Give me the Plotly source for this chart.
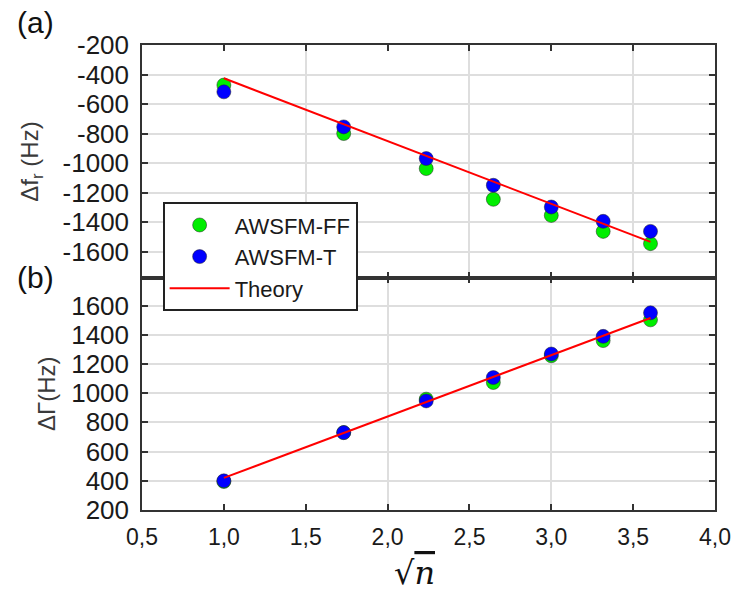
import plotly.graph_objects as go

# ---- data ----
sqrt_n = [1.0, 1.732, 2.236, 2.646, 3.0, 3.317, 3.606]

df_ff = [-471, -799, -1036, -1244, -1353, -1461, -1544]
df_t = [-517, -754, -968, -1149, -1296, -1393, -1461]
df_theory = [-425, -736, -950, -1124, -1275, -1410, -1532]

dg_ff = [395, 730, 959, 1073, 1256, 1360, 1502]
dg_t = [400, 730, 947, 1107, 1268, 1389, 1550]
dg_theory = [420, 727, 939, 1111, 1260, 1393, 1515]

x_tickvals = [0.5, 1.0, 1.5, 2.0, 2.5, 3.0, 3.5, 4.0]
x_ticktext = ["0,5", "1,0", "1,5", "2,0", "2,5", "3,0", "3,5", "4,0"]
top_y_tickvals = [-200, -400, -600, -800, -1000, -1200, -1400, -1600]
top_y_ticktext = ["-200", "-400", "-600", "-800", "-1000", "-1200", "-1400", "-1600"]
bot_y_tickvals = [200, 400, 600, 800, 1000, 1200, 1400, 1600]
bot_y_ticktext = ["200", "400", "600", "800", "1000", "1200", "1400", "1600"]

GREEN = "#00EE00"
BLUE = "#0000FF"
RED = "#FF0000"
AXC = "#333333"
GRIDC = "#DEDEDE"
FONT = "Liberation Sans, Arial, sans-serif"

fig = go.Figure()

mk = dict(size=14, line=dict(width=0.5, color="#222222"))

# top panel
fig.add_trace(go.Scatter(x=sqrt_n, y=df_ff, mode="markers", name="AWSFM-FF",
                         marker=dict(color=GREEN, **mk), xaxis="x", yaxis="y"))
fig.add_trace(go.Scatter(x=sqrt_n, y=df_t, mode="markers", name="AWSFM-T",
                         marker=dict(color=BLUE, **mk), xaxis="x", yaxis="y"))
fig.add_trace(go.Scatter(x=sqrt_n, y=df_theory, mode="lines", name="Theory",
                         line=dict(color=RED, width=2), xaxis="x", yaxis="y"))
# bottom panel
fig.add_trace(go.Scatter(x=sqrt_n, y=dg_ff, mode="markers", name="AWSFM-FF", showlegend=False,
                         marker=dict(color=GREEN, **mk), xaxis="x2", yaxis="y2"))
fig.add_trace(go.Scatter(x=sqrt_n, y=dg_t, mode="markers", name="AWSFM-T", showlegend=False,
                         marker=dict(color=BLUE, **mk), xaxis="x2", yaxis="y2"))
fig.add_trace(go.Scatter(x=sqrt_n, y=dg_theory, mode="lines", name="Theory", showlegend=False,
                         line=dict(color=RED, width=2), xaxis="x2", yaxis="y2"))
# empty trace to carry the bottom-panel grid axis
fig.add_trace(go.Scatter(x=[], y=[], showlegend=False, hoverinfo="skip",
                         xaxis="x3", yaxis="y2"))

common_axis = dict(showline=True, linecolor=AXC, linewidth=1.5, mirror="ticks",
                   ticks="inside", ticklen=6, tickwidth=2, tickcolor=AXC,
                   zeroline=False)

XTF = dict(family=FONT, size=23, color="#1a1a1a")
YTF = dict(family=FONT, size=26, color="#1a1a1a")
TTF = dict(family=FONT, size=24, color="#3a3a3a")

fig.update_layout(
    width=743, height=595,
    margin=dict(l=142, r=20, t=45, b=85),
    paper_bgcolor="white", plot_bgcolor="white",
    font=dict(family=FONT, size=25, color="#1a1a1a"),
    xaxis=dict(domain=[0, 1], anchor="y", range=[0.5, 4.0],
               tickvals=[0.5, 1.5, 2.5, 3.5], showticklabels=False,
               showgrid=True, gridcolor=GRIDC, gridwidth=1.5,
               minor=dict(tickvals=[1.0, 2.0, 3.0], ticks="inside", ticklen=6,
                          tickwidth=2, tickcolor=AXC, showgrid=False),
               tickfont=XTF, **common_axis),
    yaxis=dict(domain=[0.5, 1], anchor="x", range=[-1773, -200],
               tickvals=top_y_tickvals, ticktext=top_y_ticktext,
               showgrid=True, gridcolor=GRIDC, gridwidth=2,
               tickfont=YTF, ticklabelstandoff=6,
               **common_axis),
    xaxis2=dict(domain=[0, 1], anchor="y2", range=[0.5, 4.0],
                tickvals=x_tickvals, ticktext=x_ticktext,
                showgrid=False, ticklabelstandoff=6,
                tickfont=XTF, **common_axis),
    xaxis3=dict(overlaying="x2", anchor="y2", range=[0.5, 4.0],
                tickvals=[2.0, 3.0], showticklabels=False, ticks="",
                showgrid=True, gridcolor=GRIDC, gridwidth=1.5,
                showline=False, zeroline=False),
    yaxis2=dict(domain=[0, 0.5], anchor="x2", range=[200, 1792],
                tickvals=bot_y_tickvals, ticktext=bot_y_ticktext,
                showgrid=True, gridcolor=GRIDC, gridwidth=2,
                tickfont=YTF, ticklabelstandoff=6,
                **common_axis),
    legend=dict(x=0.036, y=0.662, xanchor="left", yanchor="top",
                bgcolor="white", bordercolor="#222222", borderwidth=2,
                font=dict(family=FONT, size=22, color="#1a1a1a"),
                itemwidth=60, tracegroupgap=0, entrywidth=200),
    annotations=[
        dict(text="(a)", xref="paper", yref="paper", x=-0.186, y=1.049,
             xanchor="center", yanchor="middle", showarrow=False,
             font=dict(family=FONT, size=30, color="#111111")),
        dict(text="(b)", xref="paper", yref="paper", x=-0.186, y=0.501,
             xanchor="center", yanchor="middle", showarrow=False,
             font=dict(family=FONT, size=30, color="#111111")),
        dict(text="Δf<sub>r</sub> (Hz)", xref="paper", yref="paper",
             x=-0.193, y=0.75, textangle=-90,
             xanchor="center", yanchor="middle", showarrow=False, font=TTF),
        dict(text="ΔΓ(Hz)", xref="paper", yref="paper",
             x=-0.167, y=0.25, textangle=-90,
             xanchor="center", yanchor="middle", showarrow=False, font=TTF),
        dict(text="√<span style='text-decoration:overline'><i>n</i></span>",
             xref="paper", yref="paper", x=0.475, y=-0.135,
             xanchor="center", yanchor="middle", showarrow=False,
             font=dict(family="DejaVu Serif, serif", size=32, color="#111111")),
    ],
)

fig.write_html("out.html")
